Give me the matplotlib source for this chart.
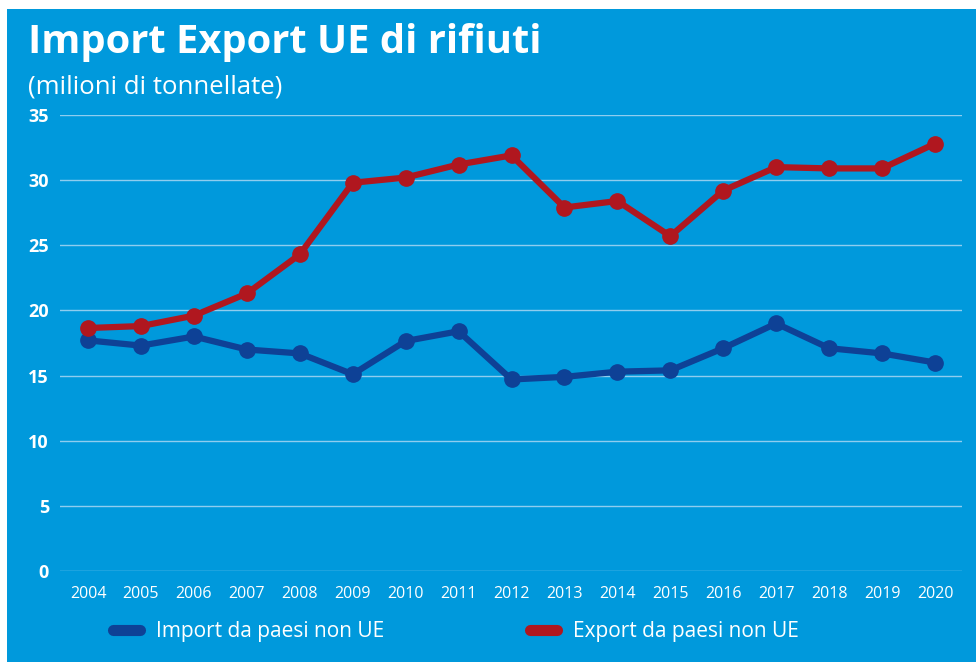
import matplotlib
matplotlib.use("Agg")
import matplotlib.pyplot as plt
from matplotlib.patches import Rectangle
from matplotlib.lines import Line2D

plt.rcParams['font.family'] = ['Open Sans', 'DejaVu Sans']

# dati (milioni di tonnellate)
anni = list(range(2004, 2021))
import_ue = [17.7, 17.3, 18.0, 17.0, 16.7, 15.1, 17.65, 18.4, 14.7, 14.9,
             15.3, 15.4, 17.1, 19.0, 17.1, 16.7, 16.0]
export_ue = [18.65, 18.8, 19.6, 21.3, 24.3, 29.8, 30.2, 31.2, 31.9, 27.9,
             28.4, 25.7, 29.2, 31.0, 30.9, 30.9, 32.8]
y_ticks = [0, 5, 10, 15, 20, 25, 30, 35]

BG = '#0099DC'
ROSSO = '#B0171F'
BLU = '#0E4196'
GRIGLIA = '#8FCDEF'

fig = plt.figure(figsize=(9.76, 6.62), dpi=100, facecolor='white')
fig.patches.append(Rectangle((7 / 976, 0), 1, 1 - 9 / 662, transform=fig.transFigure,
                             facecolor=BG, edgecolor='none', zorder=-10))

ax = fig.add_axes([60 / 976, 1 - 571 / 662, 902 / 976, 456 / 662])
ax.set_facecolor('none')

ax.plot(anni, import_ue, color=BLU, lw=4.5, marker='o', ms=11, zorder=3,
        solid_capstyle='round', solid_joinstyle='round')
ax.plot(anni, export_ue, color=ROSSO, lw=4.5, marker='o', ms=11, zorder=3,
        solid_capstyle='round', solid_joinstyle='round')

ax.set_ylim(0, 35)
ax.set_xlim(2003.47, 2020.51)
ax.set_yticks(y_ticks)
ax.set_xticks(anni)
ax.set_xticklabels([str(a) for a in anni])
ax.grid(axis='y', color=GRIGLIA, lw=1.0, zorder=1)
ax.set_axisbelow(True)
for s in ax.spines.values():
    s.set_visible(False)
ax.tick_params(length=0)
ax.tick_params(axis='y', colors='white', labelsize=13, pad=8)
ax.tick_params(axis='x', colors='white', labelsize=11.5, pad=11)
for lab in ax.get_yticklabels():
    lab.set_fontweight('bold')

fig.text(28 / 976, 1 - 42 / 662, 'Import Export UE di rifiuti', color='white',
         fontsize=28.7, fontweight='bold', va='center', ha='left')
fig.text(28 / 976, 1 - 87 / 662, '(milioni di tonnellate)', color='white',
         fontsize=18.5, va='center', ha='left')

handles = [Line2D([], [], color=BLU, lw=8, solid_capstyle='round'),
           Line2D([], [], color=ROSSO, lw=8, solid_capstyle='round')]
fig.legend(handles, ['Import da paesi non UE', 'Export da paesi non UE'],
           loc='center left', bbox_to_anchor=(94.5 / 976, 1 - 632 / 662),
           ncol=2, frameon=False, handlelength=1.3, handletextpad=0.75,
           columnspacing=7.0, labelcolor='white', fontsize=15)

fig.savefig('out.png', dpi=100, facecolor='white')
